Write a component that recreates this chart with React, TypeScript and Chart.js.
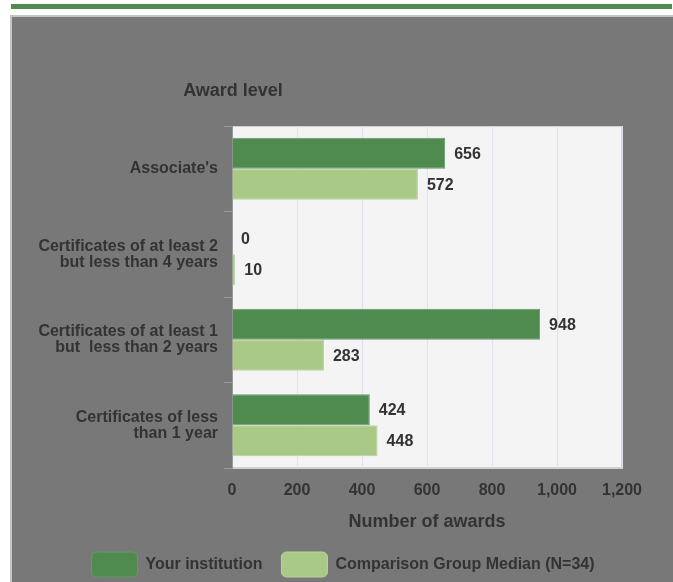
import React, { useEffect, useRef } from "react";
import { Chart, registerables } from "chart.js";

Chart.register(...registerables);

const categories: string[][] = [
  ["Associate's"],
  ["Certificates of at least 2", "but less than 4 years"],
  ["Certificates of at least 1", "but  less than 2 years"],
  ["Certificates of less", "than 1 year"],
];
const yourInstitution = [656, 0, 948, 424];
const comparisonMedian = [572, 10, 283, 448];
const seriesNames = ["Your institution", "Comparison Group Median (N=34)"];
const axisMax = 1200;
const axisStep = 200;
const yTitle = "Award level";
const xTitle = "Number of awards";

const FONT = "'Liberation Sans', Arial, sans-serif";
const TEXT = "#333333";
const DARK = "#4f8a4f";
const LIGHT = "#a9ca87";

const bgPlugin = {
  id: "plotBg",
  beforeDraw(chart: any) {
    const { ctx, chartArea: a } = chart;
    ctx.save();
    ctx.fillStyle = "#f4f4f4";
    ctx.fillRect(a.left, a.top, a.right - a.left, a.bottom - a.top);
    ctx.strokeStyle = "#d2d2d2";
    ctx.lineWidth = 1;
    ctx.strokeRect(a.left + 0.5, a.top + 0.5, a.right - a.left - 1, a.bottom - a.top - 1);
    ctx.restore();
  },
};

const labelsPlugin = {
  id: "valueLabels",
  afterDatasetsDraw(chart: any) {
    const { ctx } = chart;
    ctx.save();
    ctx.font = `bold 16px ${FONT}`;
    ctx.fillStyle = TEXT;
    ctx.textAlign = "left";
    ctx.textBaseline = "middle";
    chart.data.datasets.forEach((ds: any, di: number) => {
      const meta = chart.getDatasetMeta(di);
      meta.data.forEach((bar: any, i: number) => {
        const v = ds.data[i];
        ctx.fillText(String(v), bar.x + 9, bar.y + 1);
      });
    });
    ctx.restore();
  },
};

const yTitlePlugin = {
  id: "yTitleTop",
  afterDraw(chart: any) {
    const { ctx, chartArea: a } = chart;
    ctx.save();
    ctx.font = `bold 18px ${FONT}`;
    ctx.fillStyle = TEXT;
    ctx.textAlign = "center";
    ctx.textBaseline = "middle";
    ctx.fillText(yTitle, a.left + 1, 74);
    ctx.restore();
  },
};

const legendShiftPlugin = {
  id: "legendShift",
  afterLayout(chart: any) {
    const lg = chart.legend;
    if (!lg) return;
    const dx = 330 - (lg.left + lg.right) / 2;
    lg.left += dx;
    lg.right += dx;
  },
};

function BarChart() {
  const ref = useRef<HTMLCanvasElement | null>(null);
  useEffect(() => {
    if (!ref.current) return;
    const chart = new Chart(ref.current, {
      type: "bar",
      data: {
        labels: categories as any,
        datasets: [
          {
            label: seriesNames[0],
            data: yourInstitution,
            backgroundColor: DARK,
            borderColor: "#66996a",
            borderWidth: 1,
            categoryPercentage: 0.723,
            barPercentage: 1,
          },
          {
            label: seriesNames[1],
            data: comparisonMedian,
            backgroundColor: LIGHT,
            borderColor: "#b9d49c",
            borderWidth: 1,
            categoryPercentage: 0.723,
            barPercentage: 1,
          },
        ],
      },
      options: {
        indexAxis: "y",
        responsive: false,
        animation: false,
        devicePixelRatio: 1,
        layout: { padding: { top: 109, left: 0, right: 51, bottom: 5 } },
        plugins: {
          tooltip: { enabled: false },
          title: { display: false },
          legend: {
            position: "bottom",
            labels: {
              boxWidth: 46,
              boxHeight: 25,
              useBorderRadius: true,
              borderRadius: 5,
              padding: 19,
              color: TEXT,
              font: { family: FONT, size: 16, weight: "bold" },
            },
          },
        },
        scales: {
          x: {
            min: 0,
            max: axisMax,
            ticks: {
              stepSize: axisStep,
              color: TEXT,
              padding: 13,
              maxRotation: 0,
              font: { family: FONT, size: 16, weight: "bold" },
            },
            grid: { color: "#dfe3ee", drawTicks: false },
            border: { display: true, color: "#cfcfcf" },
            title: {
              display: true,
              text: xTitle,
              color: TEXT,
              padding: { top: 0, bottom: 0 },
              font: { family: FONT, size: 18, weight: "bold" },
            },
            afterFit(scale: any) {
              scale.height = 65;
            },
          },
          y: {
            ticks: {
              color: TEXT,
              padding: 6,
              font: { family: FONT, size: 16, weight: "bold", lineHeight: 1.0 },
            },
            grid: { drawOnChartArea: false, drawTicks: true, tickLength: 8, color: "#9a9a9a" },
            border: { display: true, color: "#9a9a9a" },
            afterFit(scale: any) {
              scale.width = 219;
            },
          },
        },
      } as any,
      plugins: [bgPlugin, labelsPlugin, yTitlePlugin, legendShiftPlugin],
    });
    return () => chart.destroy();
  }, []);
  return (
    <canvas
      ref={ref}
      width={660}
      height={575}
      style={{ position: "absolute", left: 13, top: 17, width: 660, height: 575 }}
    />
  );
}

export default function App() {
  return (
    <div style={{ position: "absolute", left: 0, top: 0, width: 673, height: 582, background: "#ffffff", overflow: "hidden" }}>
      <div style={{ position: "absolute", left: 11, top: 4, width: 661, height: 5, background: DARK }} />
      <div
        style={{
          position: "absolute",
          left: 10,
          top: 15,
          width: 663,
          height: 567,
          background: "#787878",
          borderTop: "2px solid #c4c4c4",
          borderLeft: "2px solid #c4c4c4",
          boxSizing: "border-box",
        }}
      />
      <BarChart />
    </div>
  );
}
